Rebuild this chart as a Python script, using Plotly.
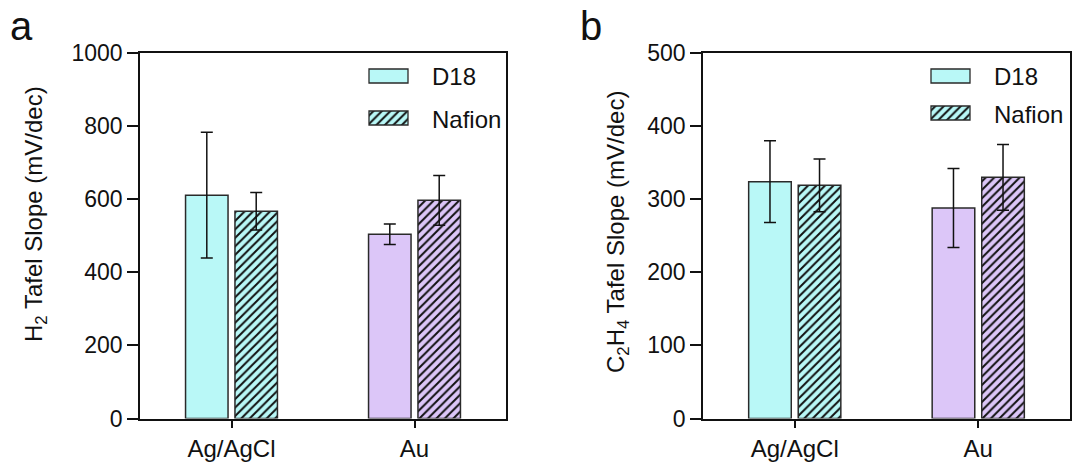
import plotly.graph_objects as go

W, H = 1072, 463

categories = ["Ag/AgCl", "Au"]
series_names = ["D18", "Nafion"]
bar_colors = ["#b9f8f7", "#dcc6f8"]

h2_d18 = [611, 504]
h2_d18_err = [172, 28]
h2_nafion = [567, 597]
h2_nafion_err = [51, 68]

c2h4_d18 = [324, 288]
c2h4_d18_err = [56, 54]
c2h4_nafion = [319, 330]
c2h4_nafion_err = [36, 45]

h2_ticks = [0, 200, 400, 600, 800, 1000]
c2h4_ticks = [0, 100, 200, 300, 400, 500]

FONT = "Liberation Sans, Arial, sans-serif"
INK = "#111111"
EDGE = "#2a2a2a"


def px(x):
    return x / W


def py(y):
    return 1 - y / H


def hatch(color):
    return dict(shape="/", fgcolor="#111111", bgcolor=color, fgopacity=1,
                size=6, solidity=0.33, fillmode="replace")


fig = go.Figure()

panels = [
    dict(xa="x", ya="y", vals=[h2_d18, h2_nafion], errs=[h2_d18_err, h2_nafion_err]),
    dict(xa="x2", ya="y2", vals=[c2h4_d18, c2h4_nafion], errs=[c2h4_d18_err, c2h4_nafion_err]),
]

for p in panels:
    for s, name in enumerate(series_names):
        for c, cat in enumerate(categories):
            marker = dict(color=bar_colors[c], line=dict(color=EDGE, width=1.5))
            if s == 1:
                marker["pattern"] = hatch(bar_colors[c])
            fig.add_trace(go.Bar(
                x=[cat], y=[p["vals"][s][c]], name=name, offsetgroup=name,
                xaxis=p["xa"], yaxis=p["ya"], marker=marker,
                error_y=dict(type="data", array=[p["errs"][s][c]], color=INK,
                             thickness=1.5, width=6),
                showlegend=False,
            ))

axis_common = dict(showline=True, linecolor=INK, linewidth=1.5, mirror=True,
                   showgrid=False, zeroline=False, automargin=False,
                   tickcolor=INK, tickwidth=1.5)
ytick_font = dict(family=FONT, size=23, color=INK)
xtick_font = dict(family=FONT, size=24, color=INK)

y_dom = [py(418.5), py(53)]
fig.update_layout(
    xaxis=dict(domain=[px(140), px(506)], ticks="outside", ticklen=8,
               categoryorder="array", categoryarray=categories,
               tickfont=xtick_font, **axis_common),
    yaxis=dict(domain=y_dom, range=[0, 1000], tickvals=h2_ticks, ticks="outside",
               ticklen=11, tickfont=ytick_font, **axis_common),
    xaxis2=dict(domain=[px(703), px(1070)], anchor="y2", ticks="outside", ticklen=8,
                categoryorder="array", categoryarray=categories,
                tickfont=xtick_font, **axis_common),
    yaxis2=dict(domain=y_dom, range=[0, 500], tickvals=c2h4_ticks, anchor="x2",
                ticks="outside", ticklen=11, tickfont=ytick_font, **axis_common),
)

# Legend glyphs drawn as bars on small hidden axes
legend_boxes = [
    (369, 408, 69, 83, 0, False),
    (369, 408, 111, 125, 0, True),
    (931, 970, 69, 83, 0, False),
    (931, 970, 106, 120, 0, True),
]
legend_text_x = [430, 992]
pad = 2
for i, (x0, x1, y0, y1, ci, hatched) in enumerate(legend_boxes):
    n = i + 3
    wpx, hpx = x1 - x0, y1 - y0
    marker = dict(color=bar_colors[ci], line=dict(color=EDGE, width=1.3))
    if hatched:
        marker["pattern"] = hatch(bar_colors[ci])
    fig.add_trace(go.Bar(x=[0], y=[1], width=[1], marker=marker,
                         xaxis=f"x{n}", yaxis=f"y{n}", showlegend=False,
                         hoverinfo="skip"))
    fig.layout[f"xaxis{n}"] = dict(domain=[px(x0 - pad), px(x1 + pad)],
                                   range=[-0.5 - pad / wpx, 0.5 + pad / wpx],
                                   visible=False, anchor=f"y{n}", fixedrange=True,
                                   automargin=False)
    fig.layout[f"yaxis{n}"] = dict(domain=[py(y1 + pad), py(y0 - pad)],
                                   range=[-pad / hpx, 1 + pad / hpx],
                                   visible=False, anchor=f"x{n}", fixedrange=True,
                                   automargin=False)

annotations = []
for k, tx in enumerate(legend_text_x):
    for j, name in enumerate(series_names):
        (x0, x1, y0, y1, _, _) = legend_boxes[k * 2 + j]
        annotations.append(dict(x=px(tx), y=py((y0 + y1) / 2 + 1), xref="paper", yref="paper",
                                xanchor="left", yanchor="middle", text=name, showarrow=False,
                                font=dict(family=FONT, size=24, color=INK)))

annotations.append(dict(x=px(35), y=py(214), xref="paper", yref="paper", textangle=-90,
                        xanchor="center", yanchor="middle", showarrow=False,
                        text="H<sub>2</sub> Tafel Slope (mV/dec)",
                        font=dict(family=FONT, size=24, color=INK)))
annotations.append(dict(x=px(618), y=py(232), xref="paper", yref="paper", textangle=-90,
                        xanchor="center", yanchor="middle", showarrow=False,
                        text="C<sub>2</sub>H<sub>4</sub> Tafel Slope (mV/dec)",
                        font=dict(family=FONT, size=24, color=INK)))
annotations.append(dict(x=px(8), y=py(2), xref="paper", yref="paper", xanchor="left",
                        yanchor="top", showarrow=False, text="a",
                        font=dict(family=FONT, size=40, color=INK)))
annotations.append(dict(x=px(578), y=py(2), xref="paper", yref="paper", xanchor="left",
                        yanchor="top", showarrow=False, text="b",
                        font=dict(family=FONT, size=40, color=INK)))

fig.update_layout(
    template="none",
    width=W, height=H, margin=dict(l=0, r=0, t=0, b=0, autoexpand=False),
    paper_bgcolor="white", plot_bgcolor="white",
    barmode="group", bargap=0.46, bargroupgap=0.14,
    showlegend=False, annotations=annotations,
    font=dict(family=FONT, color=INK),
)

fig.write_html("out.html")
